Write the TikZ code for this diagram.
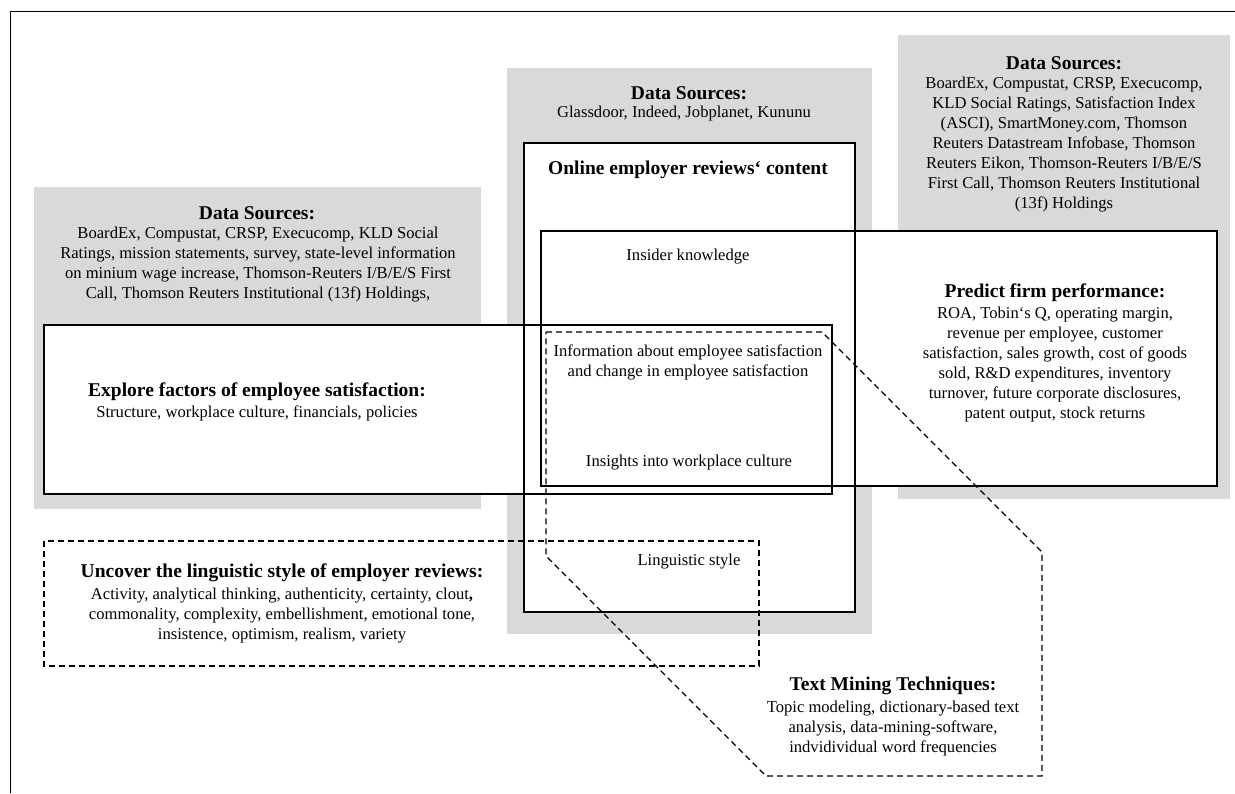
\documentclass[tikz,border=0pt]{standalone}
\usepackage{fontspec}
\setmainfont{Liberation Serif}
\usepackage{tikz}
\definecolor{srcgray}{RGB}{217,217,217}
\tikzstyle{srcbg} = [fill=srcgray, draw=none]
\tikzstyle{mainbox} = [draw=black, line width=1.5pt]
\tikzstyle{dashbox} = [draw=black, line width=1.2pt, dash pattern=on 6pt off 4pt]
\tikzstyle{head} = [font=\fontsize{19.5}{23}\selectfont\bfseries, align=center, inner sep=0pt]
\tikzstyle{body} = [font=\fontsize{16.6}{20}\selectfont, align=center, inner sep=0pt]

\begin{document}
\begin{tikzpicture}[x=1pt, y=-1pt]
\useasboundingbox (0,0) rectangle (1235,793);
% Frame
\draw[line width=1pt] (1235,11) -- (10,11) -- (10,793);

% Data source backgrounds
\fill[srcbg] (34,187) rectangle (481,509);
\fill[srcbg] (507,68) rectangle (872,634);
\fill[srcbg] (898,35) rectangle (1230,499);

% White areas of the solid boxes
\fill[white] (524,143) rectangle (855,612);
\fill[white] (541,231) rectangle (1217,486);
\fill[white] (44,325) rectangle (832,494);

% Solid boxes
\draw[mainbox] (524,143) rectangle (855,612);
\draw[mainbox, line width=2pt] (541,231) rectangle (1217,486);
\draw[mainbox] (44,325) rectangle (832,494);

% Dashed boxes
\draw[dashbox] (44,541) rectangle (759,666);
\draw[dashbox] (546,332) -- (822,332) -- (1042,552) -- (1042,776)
    -- (766,776) -- (546,556) -- cycle;

% Data sources (left)
\node[head] (srcLhead) at (257,213) {Data Sources:};
\node[body] (srcLtext) at (258,265) {BoardEx, Compustat, CRSP, Execucomp, KLD Social\\Ratings, mission statements, survey, state-level information\\on minium wage increase, Thomson-Reuters I/B/E/S First\\Call, Thomson Reuters Institutional (13f) Holdings,};

% Data sources (middle)
\node[head] (srcMhead) at (689,93) {Data Sources:};
\node[body] (srcMtext) at (684,114) {Glassdoor, Indeed, Jobplanet, Kununu};

% Data sources (right)
\node[head] (srcRhead) at (1064,63) {Data Sources:};
\node[body] (srcRtext) at (1064,145) {BoardEx, Compustat, CRSP, Execucomp,\\KLD Social Ratings, Satisfaction Index\\(ASCI), SmartMoney.com, Thomson\\Reuters Datastream Infobase, Thomson\\Reuters Eikon, Thomson-Reuters I/B/E/S\\First Call, Thomson Reuters Institutional\\(13f) Holdings};

% Review content column
\node[head] (contentHead) at (688,170) {Online employer reviews‘ content};
\node[body] (insider) at (688,257) {Insider knowledge};
\node[body] (satisf) at (688,362) {Information about employee satisfaction\\and change in employee satisfaction};
\node[body] (culture) at (689,463) {Insights into workplace culture};
\node[body] (lingstyle) at (689,562) {Linguistic style};

% Research streams
\node[head] (exploreHead) at (257,392) {Explore factors of employee satisfaction:};
\node[body] (exploreText) at (257,413) {Structure, workplace culture, financials, policies};

\node[head] (predictHead) at (1055,293) {Predict firm performance:};
\node[body] (predictText) at (1055,365) {ROA, Tobin‘s Q, operating margin,\\revenue per employee, customer\\satisfaction, sales growth, cost of goods\\sold, R\&D expenditures, inventory\\turnover, future corporate disclosures,\\patent output, stock returns};

\node[head] (uncoverHead) at (282,573) {Uncover the linguistic style of employer reviews:};
\node[body] (uncoverText) at (282,616) {Activity, analytical thinking, authenticity, certainty, clout\textbf{,}\\commonality, complexity, embellishment, emotional tone,\\insistence, optimism, realism, variety};

% Techniques
\node[head] (miningHead) at (893,686) {Text Mining Techniques:};
\node[body] (miningText) at (893,728) {Topic modeling, dictionary-based text\\analysis, data-mining-software,\\indvidividual word frequencies};
\end{tikzpicture}
\end{document}
